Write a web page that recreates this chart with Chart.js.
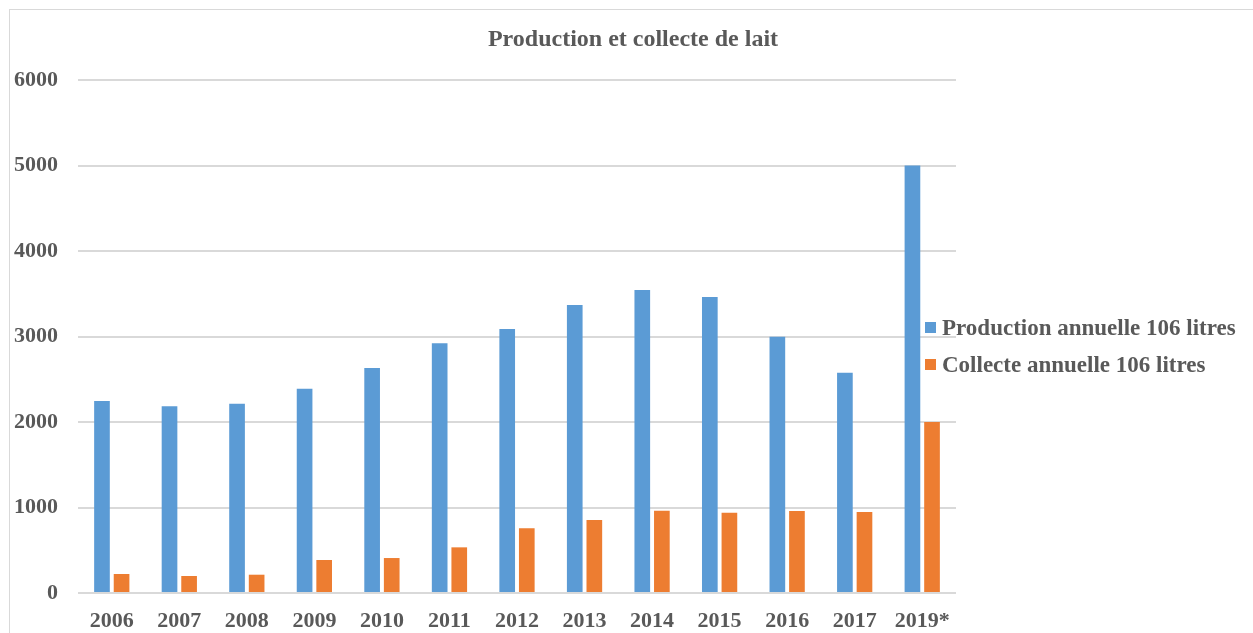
<!DOCTYPE html>
<html>
<head>
<meta charset="utf-8">
<script src="https://cdn.jsdelivr.net/npm/chart.js@4"></script>
<style>
  html, body { margin: 0; padding: 0; background: #fff; overflow: hidden; }
  #wrap { position: relative; width: 1253px; height: 633px; }
  #frame { position: absolute; left: 9px; top: 9px; width: 1260px; height: 640px; border: 1px solid #d9d9d9; box-sizing: border-box; }
  #chart { position: absolute; left: 0; top: 0; }
  #title { position: absolute; left: 383px; top: 24px; width: 500px; text-align: center;
           font: bold 24px 'Liberation Serif', 'Times New Roman', serif; color: #595959; line-height: 28px; }
  .legend-item { position: absolute; left: 925px; font: bold 23px 'Liberation Serif', 'Times New Roman', serif;
                 color: #595959; line-height: 26px; white-space: nowrap; }
  .legend-item span.box { display: inline-block; width: 11px; height: 11px; margin-right: 6px; vertical-align: 2px; }
</style>
</head>
<body>
<div id="wrap">
  <div id="frame"></div>
  <canvas id="chart" width="1253" height="633"></canvas>
  <div id="title">Production et collecte de lait</div>
  <div id="legend"></div>
</div>
<script>
// Data
const years = ['2006', '2007', '2008', '2009', '2010', '2011', '2012', '2013', '2014', '2015', '2016', '2017', '2019*'];
const production = [2245, 2183, 2214, 2390, 2632, 2920, 3088, 3368, 3544, 3462, 2998, 2577, 5000];
const collecte = [222, 199, 214, 386, 409, 534, 757, 854, 963, 939, 959, 947, 2000];
const seriesNames = ['Production annuelle 106 litres', 'Collecte annuelle 106 litres'];
const yTicks = [0, 1000, 2000, 3000, 4000, 5000, 6000];

const blue = '#5B9BD5';
const orange = '#ED7D31';
const textColor = '#595959';
const tickFont = { family: "'Liberation Serif', 'Times New Roman', serif", size: 22, weight: 'bold' };

// HTML legend (overlaps the plot like the original)
const legendEl = document.getElementById('legend');
[[seriesNames[0], blue, 315], [seriesNames[1], orange, 352]].forEach(([name, color, top]) => {
  const item = document.createElement('div');
  item.className = 'legend-item';
  item.style.top = top + 'px';
  item.innerHTML = `<span class="box" style="background:${color}"></span>${name}`;
  legendEl.appendChild(item);
});

const ctx = document.getElementById('chart').getContext('2d');

new Chart(ctx, {
  type: 'bar',
  data: {
    labels: years,
    datasets: [{
      label: seriesNames[0],
      data: production,
      backgroundColor: blue,
      borderWidth: 0,
      categoryPercentage: 0.58,
      barPercentage: 0.8
    }, {
      label: seriesNames[1],
      data: collecte,
      backgroundColor: orange,
      borderWidth: 0,
      categoryPercentage: 0.58,
      barPercentage: 0.8
    }]
  },
  options: {
    responsive: false,
    animation: false,
    layout: { padding: { left: 0, right: 297, top: 80, bottom: 0 } },
    plugins: {
      legend: { display: false },
      title: { display: false },
      tooltip: { enabled: false }
    },
    scales: {
      x: {
        grid: { display: false },
        border: { display: false },
        ticks: { color: textColor, font: tickFont, padding: 7, maxRotation: 0 },
        afterFit: (scale) => { scale.height = 40; }
      },
      y: {
        min: 0,
        max: 6000,
        afterBuildTicks: (scale) => { scale.ticks = yTicks.map(v => ({ value: v })); },
        grid: { color: '#d9d9d9', lineWidth: 2, drawTicks: false },
        border: { display: false },
        ticks: { color: textColor, font: tickFont, padding: 20, callback: (v) => String(v) },
        afterFit: (scale) => { scale.width = 78; }
      }
    }
  }
});
</script>
</body>
</html>
